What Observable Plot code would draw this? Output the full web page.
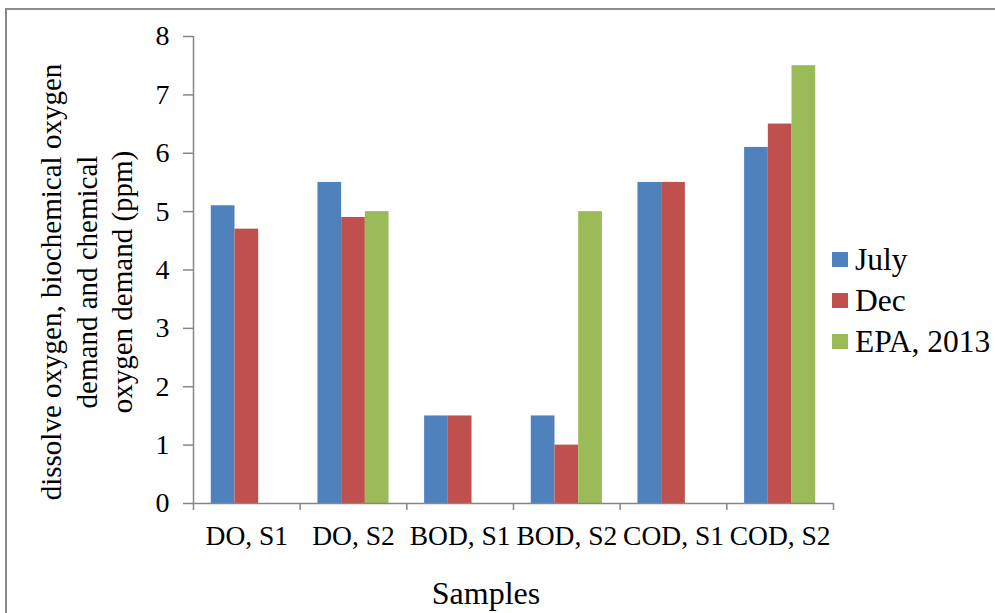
<!DOCTYPE html>
<html><head><meta charset="utf-8">
<script src="https://cdn.jsdelivr.net/npm/d3@7"></script>
<script src="https://cdn.jsdelivr.net/npm/@observablehq/plot@0.6"></script>
<style>
body{margin:0;background:#fff;}
#wrap{position:relative;width:995px;height:613px;overflow:hidden;font-family:"Liberation Serif","DejaVu Serif","Times New Roman",serif;color:#000;}
#border{position:absolute;left:5px;top:8px;width:1100px;height:700px;border:2px solid #8a8a8a;box-sizing:border-box;}
#chart{position:absolute;left:0;top:0;}
#ytitle{position:absolute;width:460px;height:106px;left:-143px;top:229px;transform:rotate(-90deg);text-align:center;font-size:29px;line-height:35.5px;white-space:nowrap;}
#xtitle{position:absolute;left:386px;width:200px;top:575px;text-align:center;font-size:32px;line-height:36px;}
#legend{position:absolute;left:832px;top:239px;font-size:31.5px;}
.li{display:flex;align-items:center;height:41px;}
.sw{width:16px;height:15px;margin-right:7px;flex:none;}
</style>
</head><body>
<div id="wrap">
  <div id="border"></div>
  <div id="chart"></div>
  <div id="ytitle">dissolve oxygen, biochemical oxygen<br>demand and chemical<br>oxygen demand (ppm)</div>
  <div id="xtitle">Samples</div>
  <div id="legend"></div>
</div>
<script>
const categories = ["DO, S1", "DO, S2", "BOD, S1", "BOD, S2", "COD, S1", "COD, S2"];
const seriesNames = ["July", "Dec", "EPA, 2013"];
const julyValues = [5.1, 5.5, 1.5, 1.5, 5.5, 6.1];
const decValues = [4.7, 4.9, 1.5, 1.0, 5.5, 6.5];
const epaValues = [null, 5.0, null, 5.0, null, 7.5];
const seriesColors = ["#4F81BD", "#C0504D", "#9BBB59"];
const yTicks = [0, 1, 2, 3, 4, 5, 6, 7, 8];

const valuesBySeries = [julyValues, decValues, epaValues];
const rows = [];
seriesNames.forEach((s, k) => {
  categories.forEach((c, i) => {
    const v = valuesBySeries[k][i];
    if (v != null) rows.push({category: c, series: s, value: v});
  });
});

const W = 995, H = 613;
const mL = 193, mR = 162, mT = 36, mB = 110;
const step = (W - mL - mR) / categories.length;
const bw = step / 4.5;
const off = 0.75 * bw;
const axisColor = "#868686";
const fontStack = "'Liberation Serif', 'DejaVu Serif', 'Times New Roman', serif";

const barMarks = seriesNames.map((s, k) =>
  Plot.barY(rows.filter(r => r.series === s), {
    x: "category", y: "value", fill: seriesColors[k],
    insetLeft: off + k * bw,
    insetRight: step - off - (k + 1) * bw
  })
);

const plot = Plot.plot({
  width: W, height: H,
  marginLeft: mL, marginRight: mR, marginTop: mT, marginBottom: mB,
  style: {fontFamily: fontStack, fontSize: "28px", color: "#000", background: "transparent"},
  x: {domain: categories, padding: 0, round: false, axis: null},
  y: {domain: [0, 8], axis: null},
  marks: [
    ...barMarks,
    Plot.ruleY([0], {stroke: axisColor, strokeWidth: 1.5}),
    Plot.ruleX([categories[0]], {dx: -step / 2, y1: 0, y2: 8, stroke: axisColor, strokeWidth: 1.5}),
    Plot.ruleX(categories, {dx: -step / 2, y1: 0, y2: -0.12, stroke: axisColor, strokeWidth: 1.5}),
    Plot.ruleX([categories[categories.length - 1]], {dx: step / 2, y1: 0, y2: -0.12, stroke: axisColor, strokeWidth: 1.5}),
    Plot.axisY({ticks: yTicks, tickSize: 10, tickPadding: 14, stroke: axisColor, strokeWidth: 1.5, fontSize: 28, tickFormat: d => String(d), label: null}),
    Plot.axisX({tickSize: 0, tickPadding: 22, fontSize: 27.5, label: null})
  ]
});
document.getElementById("chart").appendChild(plot);

const legend = document.getElementById("legend");
seriesNames.forEach((s, k) => {
  const item = document.createElement("div");
  item.className = "li";
  const sw = document.createElement("span");
  sw.className = "sw";
  sw.style.background = seriesColors[k];
  const t = document.createElement("span");
  t.textContent = s;
  item.appendChild(sw); item.appendChild(t);
  legend.appendChild(item);
});
</script>
</body></html>
